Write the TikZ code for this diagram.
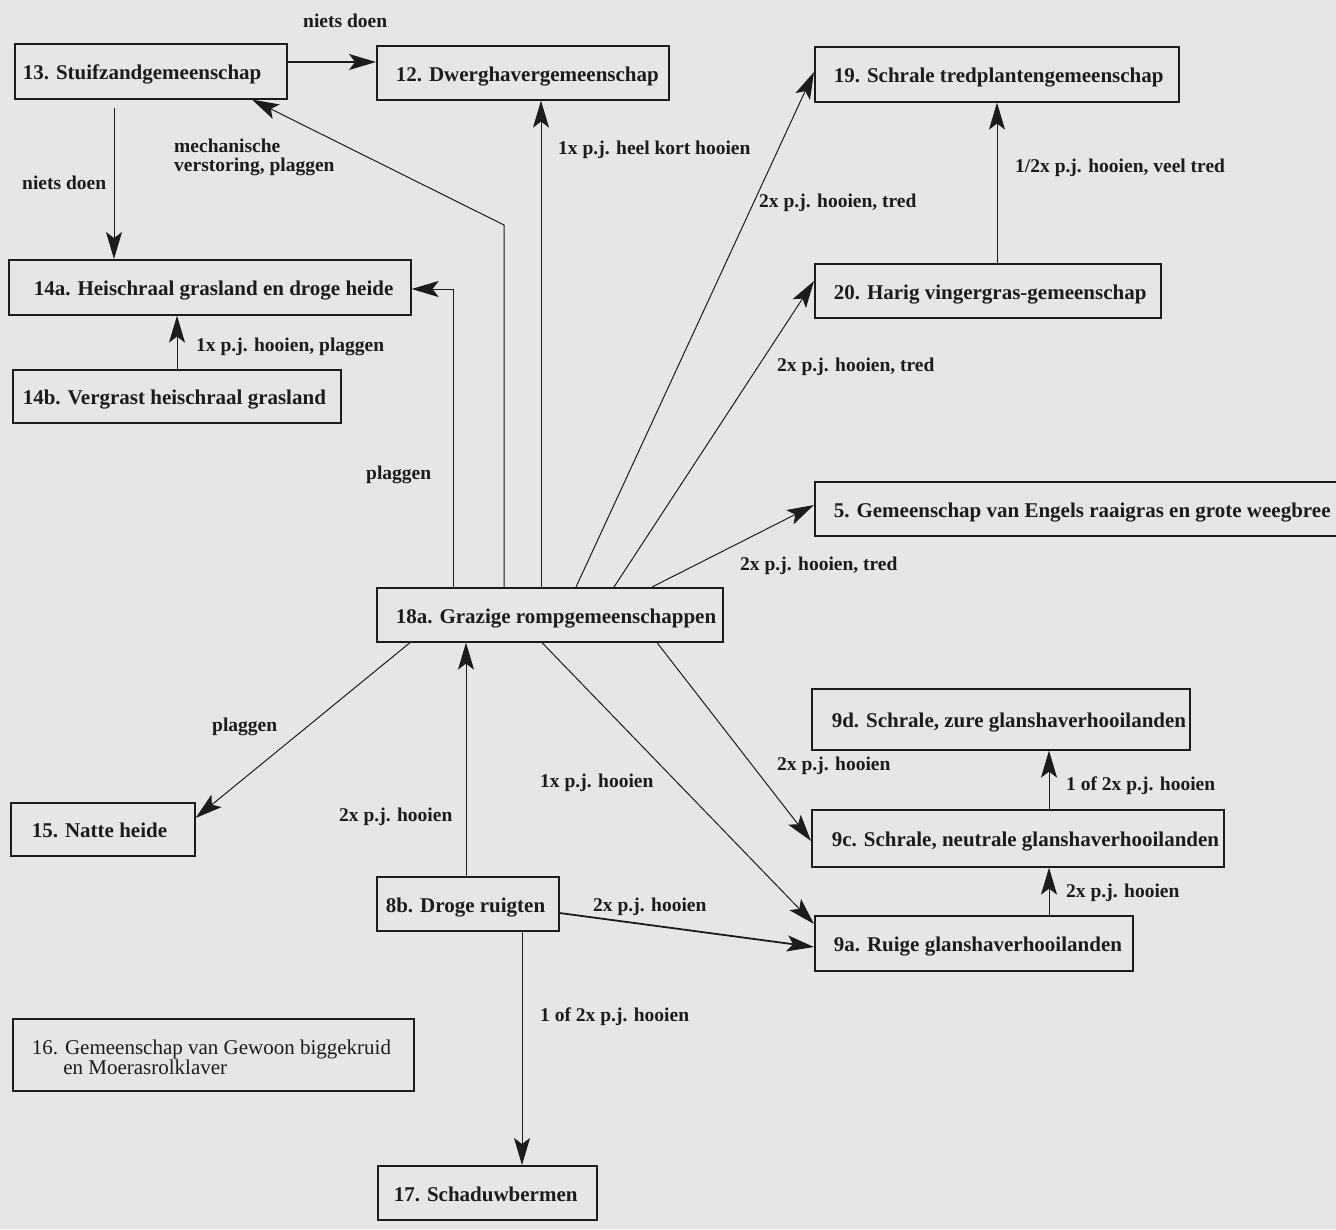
\documentclass[tikz,border=0pt]{standalone}
\usepackage{fontspec}
\setmainfont{Liberation Serif}
\usetikzlibrary{arrows.meta,calc}
\definecolor{paper}{RGB}{230,231,228}
\definecolor{ink}{RGB}{28,28,28}
\newcommand{\boxfont}{\fontsize{21}{23}\selectfont\bfseries}
\newcommand{\plainfont}{\fontsize{21}{18}\selectfont}
\newcommand{\labfont}{\fontsize{19.5}{19}\selectfont\bfseries}
\newcommand{\boxtext}[3]{\makebox[#1][l]{\hspace*{#2}#3}}

\begin{document}
\begin{tikzpicture}[x=1pt,y=-1pt,
  comm/.style={draw=ink, line width=1.6pt, anchor=north west, inner sep=0pt,
    minimum height=55pt, text height=17pt, text depth=0pt, font=\boxfont, text=ink},
  lab/.style={anchor=west, inner sep=0pt, font=\labfont, text=ink, align=left},
  conn/.style={draw=ink, line width=1pt, -{Stealth[length=27pt,width=16pt,inset=6pt]}},
  heavy/.style={line width=1.8pt}]
  \useasboundingbox (0,0) rectangle (1336,1229);
  \clip (0,0) rectangle (1336,1229);
  \fill[paper] (0,0) rectangle (1336,1229);
  % communities
  \node[comm] (b13) at (14,43) {\boxtext{272pt}{8pt}{13. Stuifzandgemeenschap}};
  \node[comm, minimum height=54pt] (b12) at (376,45) {\boxtext{292pt}{19pt}{12. Dwerghavergemeenschap}};
  \node[comm] (b19) at (814,46) {\boxtext{364pt}{19pt}{19. Schrale tredplantengemeenschap}};
  \node[comm] (b14a) at (8,259) {\boxtext{402pt}{25pt}{14a. Heischraal grasland en droge heide}};
  \node[comm, minimum height=53pt] (b14b) at (12,369) {\boxtext{328pt}{10pt}{14b. Vergrast heischraal grasland}};
  \node[comm, minimum height=54pt] (b20) at (814,263) {\boxtext{346pt}{19pt}{20. Harig vingergras-gemeenschap}};
  \node[comm, minimum height=54pt] (b5) at (814,481) {\boxtext{540pt}{19pt}{5. Gemeenschap van Engels raaigras en grote weegbree}};
  \node[comm, minimum height=54pt] (b18a) at (376,587) {\boxtext{346pt}{19pt}{18a. Grazige rompgemeenschappen}};
  \node[comm, minimum height=61pt] (b9d) at (811,688) {\boxtext{378pt}{20pt}{9d. Schrale, zure glanshaverhooilanden}};
  \node[comm, minimum height=57pt] (b9c) at (811,809) {\boxtext{412pt}{20pt}{9c. Schrale, neutrale glanshaverhooilanden}};
  \node[comm] (b9a) at (814,915) {\boxtext{318pt}{19pt}{9a. Ruige glanshaverhooilanden}};
  \node[comm, minimum height=53pt] (b15) at (10,802) {\boxtext{184pt}{21pt}{15. Natte heide}};
  \node[comm, minimum height=54pt] (b8b) at (376,876) {\boxtext{182pt}{9pt}{8b. Droge ruigten}};
  \node[comm, minimum height=72pt, text height=30pt, text depth=9pt, font=\plainfont] (b16) at (12,1018)
    {\boxtext{401pt}{19pt}{\begin{tabular}{@{}l@{}}16. Gemeenschap van Gewoon biggekruid\\\hspace*{1.5em}en Moerasrolklaver\end{tabular}}};
  \node[comm, minimum height=54pt] (b17) at (377,1165) {\boxtext{219pt}{16pt}{17. Schaduwbermen}};
  % transitions
  \draw[conn, heavy] (b13.east |- 0,62) -- (b12.west |- 0,62);
  \draw[conn] ($(b13.south -| 114,0)+(0,8)$) -- (114,0 |- b14a.north);
  \draw[conn] (504,0 |- b18a.north) -- (504,225) -- (252,0 |- b13.south);
  \draw[conn] (541,0 |- b18a.north) -- (541,0 |- b12.south);
  \draw[conn] (453,0 |- b18a.north) |- (b14a.east |- 0,289);
  \draw[conn] (177,0 |- b14b.north) -- (177,0 |- b14a.south);
  \draw[conn] (576,0 |- b18a.north) -- (b19.west |- 0,72);
  \draw[conn] (614,0 |- b18a.north) -- (b20.west |- 0,281);
  \draw[conn] (652,0 |- b18a.north) -- (b5.west |- 0,505);
  \draw[conn] (997,0 |- b20.north) -- (997,0 |- b19.south);
  \draw[conn] (410,0 |- b18a.south) -- (b15.east |- 0,818);
  \draw[conn] (657,0 |- b18a.south) -- (b9c.west |- 0,841);
  \draw[conn] (542,0 |- b18a.south) -- (b9a.west |- 0,924);
  \draw[conn] (466,0 |- b8b.north) -- (466,0 |- b18a.south);
  \draw[conn, heavy] (b8b.east |- 0,913) -- (b9a.west |- 0,947);
  \draw[conn] (1049,0 |- b9a.north) -- (1049,0 |- b9c.south);
  \draw[conn] (1049,0 |- b9c.north) -- (1049,0 |- b9d.south);
  \draw[conn] (522,0 |- b8b.south) -- (522,0 |- b17.north);
  % labels
  \node[lab] (l1) at (303,21) {niets doen};
  \node[lab] (l2) at (22,183) {niets doen};
  \node[lab] (l3) at (174,157) {mechanische\\verstoring, plaggen};
  \node[lab] (l4) at (558,150) {1x p.j. heel kort hooien};
  \node[lab] (l5) at (196,347) {1x p.j. hooien, plaggen};
  \node[lab] (l6) at (759,203) {2x p.j. hooien, tred};
  \node[lab] (l7) at (1015,168) {1/2x p.j. hooien, veel tred};
  \node[lab] (l8) at (777,367) {2x p.j. hooien, tred};
  \node[lab] (l9) at (366,475) {plaggen};
  \node[lab] (l10) at (740,566) {2x p.j. hooien, tred};
  \node[lab] (l11) at (212,727) {plaggen};
  \node[lab] (l12) at (777,766) {2x p.j. hooien};
  \node[lab] (l13) at (540,783) {1x p.j. hooien};
  \node[lab] (l14) at (1066,786) {1 of 2x p.j. hooien};
  \node[lab] (l15) at (339,817) {2x p.j. hooien};
  \node[lab] (l16) at (593,907) {2x p.j. hooien};
  \node[lab] (l17) at (1066,893) {2x p.j. hooien};
  \node[lab] (l18) at (540,1017) {1 of 2x p.j. hooien};
\end{tikzpicture}
\end{document}
